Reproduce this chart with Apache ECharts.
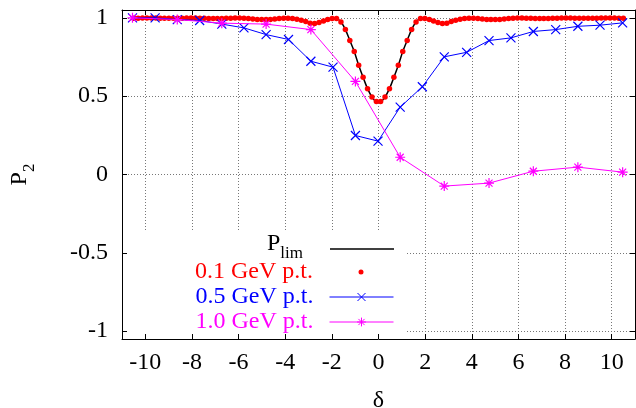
<!DOCTYPE html>
<html><head><meta charset="utf-8">
<script src="https://cdn.jsdelivr.net/npm/echarts@6/dist/echarts.min.js"></script>
<style>html,body{margin:0;padding:0;background:#fff}#c{width:636px;height:408px}</style>
</head><body><div id="c"></div>
<script>
// ---- data ----
const xTicks = [-10, -8, -6, -4, -2, 0, 2, 4, 6, 8, 10];
const yTicks = [-1, -0.5, 0, 0.5, 1];
const seriesNames = ['Plim', '0.1 GeV p.t.', '0.5 GeV p.t.', '1.0 GeV p.t.'];

// P_lim curve and 0.1 GeV points (same sampling)
const limX = [-10.5, -10.31, -10.12, -9.93, -9.74, -9.55, -9.36, -9.18, -8.99, -8.8, -8.61, -8.42, -8.23, -8.04,
  -7.85, -7.66, -7.47, -7.28, -7.09, -6.91, -6.72, -6.53, -6.34, -6.15, -5.96, -5.77, -5.58, -5.39, -5.2, -5.01,
  -4.82, -4.64, -4.45, -4.26, -4.07, -3.88, -3.69, -3.5, -3.31, -3.12, -2.93, -2.74, -2.55, -2.36, -2.18, -1.99,
  -1.8, -1.61, -1.42, -1.23, -1.04, -0.85, -0.66, -0.47, -0.28, -0.09,
  0.09, 0.28, 0.47, 0.66, 0.85, 1.04, 1.23, 1.42, 1.61, 1.8, 1.99, 2.18, 2.36, 2.55, 2.74, 2.93, 3.12, 3.31,
  3.5, 3.69, 3.88, 4.07, 4.26, 4.45, 4.64, 4.82, 5.01, 5.2, 5.39, 5.58, 5.77, 5.96, 6.15, 6.34, 6.53, 6.72,
  6.91, 7.09, 7.28, 7.47, 7.66, 7.85, 8.04, 8.23, 8.42, 8.61, 8.8, 8.99, 9.18, 9.36, 9.55, 9.74, 9.93, 10.12,
  10.31, 10.5];
const limY = [0.998, 0.998, 0.999, 0.999, 0.999, 0.999, 0.998, 0.998, 0.997, 0.997, 0.997, 0.998, 0.999, 0.999,
  0.999, 0.998, 0.997, 0.996, 0.995, 0.995, 0.996, 0.997, 0.998, 0.999, 0.999, 0.997, 0.995, 0.992, 0.99, 0.989,
  0.989, 0.99, 0.993, 0.996, 0.998, 0.998, 0.995, 0.991, 0.985, 0.977, 0.966, 0.964, 0.97, 0.98, 0.99, 0.996,
  0.996, 0.973, 0.925, 0.856, 0.785, 0.697, 0.62, 0.548, 0.495, 0.466,
  0.466, 0.495, 0.548, 0.62, 0.697, 0.785, 0.856, 0.925, 0.973, 0.996, 0.996, 0.99, 0.98, 0.97, 0.964, 0.966,
  0.977, 0.985, 0.991, 0.995, 0.998, 0.998, 0.996, 0.993, 0.99, 0.989, 0.989, 0.99, 0.992, 0.995, 0.997, 0.999,
  0.999, 0.998, 0.997, 0.996, 0.995, 0.995, 0.996, 0.997, 0.998, 0.999, 0.999, 0.999, 0.998, 0.997, 0.997, 0.997,
  0.998, 0.998, 0.999, 0.999, 0.999, 0.999, 0.998, 0.998];

// 0.5 GeV p.t.
const x05 = [-10.55, -9.58, -8.63, -7.67, -6.72, -5.77, -4.82, -3.86, -2.9, -1.95, -0.99, -0.02, 0.93, 1.88,
  2.82, 3.78, 4.74, 5.68, 6.64, 7.6, 8.55, 9.5, 10.47];
const y05 = [1.0, 1.0, 0.989, 0.983, 0.96, 0.936, 0.893, 0.862, 0.723, 0.685, 0.249, 0.213, 0.43, 0.56,
  0.751, 0.78, 0.855, 0.872, 0.913, 0.925, 0.946, 0.953, 0.968];

// 1.0 GeV p.t.
const x10 = [-10.55, -8.63, -6.72, -4.82, -2.9, -0.99, 0.93, 2.82, 4.74, 6.64, 8.55, 10.47];
const y10 = [1.0, 0.989, 0.966, 0.96, 0.925, 0.594, 0.11, -0.074, -0.055, 0.021, 0.047, 0.015];

// ---- chart ----
const FF = 'Liberation Serif';
const pair = (xs, ys) => xs.map((x, i) => [x, ys[i]]);
const crossPath = 'path://M0,0L10,10M10,0L0,10';
const starPath = 'path://M0,5L10,5M5,0L5,10M1.5,1.5L8.5,8.5M8.5,1.5L1.5,8.5';

const axisLineStyle = { color: '#000', width: 1 };
const gridLine = { show: true, lineStyle: { color: '#777', width: 1, type: [1, 2] } };

const chart = echarts.init(document.getElementById('c'), null, { renderer: 'canvas' });

const legendBase = {
  orient: 'vertical', right: 242, itemWidth: 64, align: 'right', padding: 0, itemGap: 0,
  selectedMode: false
};
const txt = (color) => ({ fontFamily: FF, fontSize: 24, color: color, padding: [0, 11, 0, 0], lineHeight: 26 });

chart.setOption({
  animation: false,
  backgroundColor: '#fff',
  grid: { left: 122, right: 1, top: 10, bottom: 69, containLabel: false, outerBoundsMode: 'none' },
  xAxis: [
    {
      type: 'value', min: -11, max: 11, position: 'bottom',
      axisLine: { onZero: false, lineStyle: axisLineStyle },
      axisTick: { inside: true, length: 5, customValues: xTicks, lineStyle: axisLineStyle },
      axisLabel: { customValues: xTicks, color: '#000', fontFamily: FF, fontSize: 24, margin: 12 },
      splitLine: gridLine,
      name: 'δ', nameLocation: 'middle', nameGap: 50,
      nameTextStyle: { fontFamily: FF, fontSize: 24, color: '#000' }
    },
    {
      type: 'value', min: -11, max: 11, position: 'top',
      axisLine: { onZero: false, lineStyle: axisLineStyle },
      axisTick: { inside: true, length: 5, customValues: xTicks, lineStyle: axisLineStyle },
      axisLabel: { show: false }, splitLine: { show: false }
    }
  ],
  yAxis: [
    {
      type: 'value', min: -1.05, max: 1.05, position: 'left',
      axisLine: { onZero: false, lineStyle: axisLineStyle },
      axisTick: { inside: true, length: 5, customValues: yTicks, lineStyle: axisLineStyle },
      axisLabel: { customValues: yTicks, color: '#000', fontFamily: FF, fontSize: 24, margin: 14 },
      splitLine: gridLine,
      name: '{p|P}{s|2}', nameLocation: 'middle', nameGap: 84, nameRotate: 90,
      nameTextStyle: {
        color: '#000',
        rich: {
          p: { fontFamily: FF, fontSize: 24, color: '#000', padding: [0, 0, 6, 0], verticalAlign: 'bottom' },
          s: { fontFamily: FF, fontSize: 17, color: '#000', verticalAlign: 'bottom' }
        }
      }
    },
    {
      type: 'value', min: -1.05, max: 1.05, position: 'right',
      axisLine: { onZero: false, lineStyle: axisLineStyle },
      axisTick: { inside: true, length: 5, customValues: yTicks, lineStyle: axisLineStyle },
      axisLabel: { show: false }, splitLine: { show: false }
    }
  ],
  graphic: [
    { type: 'rect', z: 1, shape: { x: 128, y: 231, width: 277, height: 102 }, style: { fill: '#fff' } }
  ],
  legend: [
    Object.assign({}, legendBase, {
      top: 232, itemHeight: 10,
      data: [{ name: seriesNames[0], icon: 'path://M0,0H64V1.4H0Z' }],
      formatter: () => '{p|P}{s|lim}',
      textStyle: Object.assign(txt('#000'), {
        rich: {
          p: { fontFamily: FF, fontSize: 24, color: '#000', padding: [0, 0, 6, 0], verticalAlign: 'bottom' },
          s: { fontFamily: FF, fontSize: 17, color: '#000', verticalAlign: 'bottom', padding: [0, 11, 0, 0] }
        }
      })
    }),
    Object.assign({}, legendBase, {
      top: 259, right: 272.5, itemHeight: 5, data: [seriesNames[1]], textStyle: txt('#ff0000')
    }),
    Object.assign({}, legendBase, {
      top: 284, itemHeight: 10, data: [seriesNames[2]], itemStyle: { borderWidth: 1 },
      lineStyle: { width: 1 }, textStyle: txt('#0000ff')
    }),
    Object.assign({}, legendBase, {
      top: 309, itemHeight: 11, data: [seriesNames[3]], itemStyle: { borderWidth: 1 },
      lineStyle: { width: 1 }, textStyle: txt('#ff00ff')
    })
  ],
  series: [
    {
      name: seriesNames[0], type: 'line', data: pair(limX, limY), symbol: 'none', smooth: 0.3,
      lineStyle: { color: '#000', width: 1.5 }, itemStyle: { color: '#000' }, z: 2
    },
    {
      name: seriesNames[1], type: 'scatter', data: pair(limX, limY), symbol: 'circle', symbolSize: 5.5,
      itemStyle: { color: '#ff0000', opacity: 1 }, z: 3
    },
    {
      name: seriesNames[2], type: 'line', data: pair(x05, y05), symbol: crossPath, symbolSize: 9,
      showAllSymbol: true,
      lineStyle: { color: '#0000ff', width: 1 },
      itemStyle: { color: '#0000ff', borderColor: '#0000ff', borderWidth: 1.2 }, z: 4
    },
    {
      name: seriesNames[3], type: 'line', data: pair(x10, y10), symbol: starPath, symbolSize: 10,
      showAllSymbol: true,
      lineStyle: { color: '#ff00ff', width: 1 },
      itemStyle: { color: '#ff00ff', borderColor: '#ff00ff', borderWidth: 1.2 }, z: 5
    }
  ]
});
</script>
</body></html>
